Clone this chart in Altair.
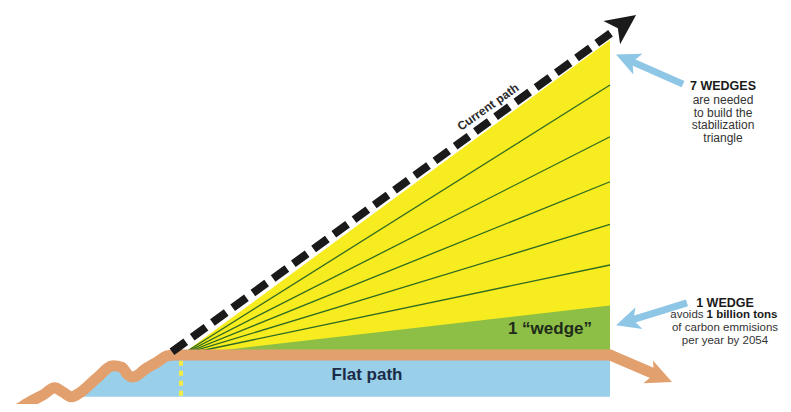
import altair as alt
import pandas as pd

# ---- data (years vs. carbon emissions, GtC / yr) ----
hist_year = [1985.2, 1986.4, 1987.9, 1989.3, 1990.2, 1991.3, 1992.2, 1994.2, 1996.1,
             1997.1, 1997.8, 1998.4, 2000.0, 2001.2, 2002.4, 2003.3]
hist_gtc = [5.82, 5.96, 6.11, 6.27, 6.18, 6.07, 6.16, 6.49, 6.76,
            6.73, 6.56, 6.51, 6.71, 6.84, 6.98, 7.0]
flat_year = [2054.0]
flat_gtc = [7.0]
decline_year = [2058.9]
decline_gtc = [6.6]

start_year = 2004.0
end_year = 2054.0
base_gtc = 7.0
current_end_gtc = 14.0
green_top_gtc = 8.1
wedge_line_tops = [9.0, 9.9, 10.85, 11.85, 13.0]

current_year = [2002.95, 2054.58]
current_gtc = [7.07, 14.22]

flat_floor = 6.07
dotted_gtc = [6.87, 6.07]

# arrowheads
head_year = [2055.62, 2059.83, 2055.98, 2056.04]
head_gtc = [14.36, 6.51, 13.57, 7.74]
head_angle = [324.2, 23, 203.7, 162.5]
head_size = [900, 676, 576, 576]
head_color = ["#1a1a1a", "#e2a06e", "#8ec6e6", "#8ec6e6"]

# blue callout arrow shafts
callout_year = [2062.51, 2062.97]
callout_gtc = [13.02, 8.16]
callout_year2 = [2056.56, 2056.56]
callout_gtc2 = [13.52, 7.78]

X_DOM = [1983.84, 2074.16]
Y_DOM = [5.911, 14.711]

FONT = "Liberation Sans"


def X(f="year"):
    return alt.X(f, type="quantitative", scale=alt.Scale(domain=X_DOM, nice=False, zero=False), axis=None)


def Y(f="gtc"):
    return alt.Y(f, type="quantitative", scale=alt.Scale(domain=Y_DOM, nice=False, zero=False), axis=None)


path = pd.DataFrame({"year": hist_year + flat_year + decline_year,
                     "gtc": hist_gtc + flat_gtc + decline_gtc})
path["order"] = range(len(path))

blue_df = path[(path["year"] >= 1992.2) & (path["year"] <= end_year)].copy()
blue_df["floor"] = flat_floor

blue = alt.Chart(blue_df).mark_area(color="#99cfe8", opacity=1, interpolate="monotone").encode(
    x=X(), y=Y(), y2=alt.Y2("floor"))

tri = pd.DataFrame({"year": [start_year, end_year], "gtc": [base_gtc, current_end_gtc],
                    "base": [base_gtc, base_gtc]})
yellow = alt.Chart(tri).mark_area(color="#f7ec1f", opacity=1).encode(
    x=X(), y=Y(), y2=alt.Y2("base"))

gdf = pd.DataFrame({"year": [start_year, end_year], "gtc": [base_gtc, green_top_gtc],
                    "base": [base_gtc, base_gtc]})
green = alt.Chart(gdf).mark_area(color="#8dbe46", opacity=1).encode(
    x=X(), y=Y(), y2=alt.Y2("base"))

wl = pd.DataFrame({"year": [start_year] * len(wedge_line_tops),
                   "gtc": [base_gtc] * len(wedge_line_tops),
                   "year2": [end_year] * len(wedge_line_tops),
                   "gtc2": wedge_line_tops})
wedge_lines = alt.Chart(wl).mark_rule(color="#2f6a22", strokeWidth=1.3).encode(
    x=X(), y=Y(), x2=alt.X2("year2"), y2=alt.Y2("gtc2"))

dot_df = pd.DataFrame({"year": [start_year], "gtc": [dotted_gtc[0]], "gtc2": [dotted_gtc[1]]})
dotted = alt.Chart(dot_df).mark_rule(color="#f4ec45", strokeWidth=4, strokeDash=[5, 5]).encode(
    x=X(), y=Y(), y2=alt.Y2("gtc2"))

hist_df = path[path["year"] <= end_year]
orange_hist = alt.Chart(hist_df).mark_line(color="#e2a06e", strokeWidth=11, strokeJoin="round",
                                           strokeCap="round", interpolate="monotone").encode(
    x=X(), y=Y(), order="order")

tail_df = path[path["year"] >= end_year]
orange_tail = alt.Chart(tail_df).mark_line(color="#e2a06e", strokeWidth=11, strokeJoin="round",
                                           strokeCap="round").encode(
    x=X(), y=Y(), order="order")

cur = pd.DataFrame({"year": current_year, "gtc": current_gtc})
current = alt.Chart(cur).mark_line(color="#1a1a1a", strokeWidth=8, strokeDash=[17, 8]).encode(
    x=X(), y=Y())

cal = pd.DataFrame({"year": callout_year, "gtc": callout_gtc,
                    "year2": callout_year2, "gtc2": callout_gtc2})
callouts = alt.Chart(cal).mark_rule(color="#8ec6e6", strokeWidth=7).encode(
    x=X(), y=Y(), x2=alt.X2("year2"), y2=alt.Y2("gtc2"))

heads_df = pd.DataFrame({"year": head_year, "gtc": head_gtc, "angle": head_angle,
                         "size": head_size, "color": head_color})
heads = alt.Chart(heads_df).mark_point(
    shape="M1,0L-1,-0.95L-0.5,0L-1,0.95Z", filled=True, opacity=1, strokeWidth=0).encode(
    x=X(), y=Y(),
    angle=alt.Angle("angle", scale=None),
    size=alt.Size("size", scale=None),
    color=alt.Color("color", scale=None))

big_df = pd.DataFrame({"year": [2025.68, 2047.0], "gtc": [6.56, 7.58],
                       "label": ["Flat path", "1 \u201cwedge\u201d"],
                       "color": ["#1b2b48", "#1e2b1a"]})
big_text = alt.Chart(big_df).mark_text(font=FONT, fontSize=17, fontWeight="bold",
                                       baseline="middle", align="center").encode(
    x=X(), y=Y(), text="label", color=alt.Color("color", scale=None))

cp_df = pd.DataFrame({"year": [2039.78], "gtc": [12.51], "label": ["Current path"]})
cp_text = alt.Chart(cp_df).mark_text(font=FONT, fontSize=12, fontWeight="bold", angle=324.8,
                                     baseline="middle", align="center", color="#2a2a2a").encode(
    x=X(), y=Y(), text="label")

head_df = pd.DataFrame({"year": [2067.17, 2067.40], "gtc": [12.97, 8.156],
                        "label": ["7 WEDGES", "1 WEDGE"]})
head_text = alt.Chart(head_df).mark_text(font=FONT, fontSize=12.5, fontWeight="bold",
                                         baseline="middle", align="center", color="#1a1a1a").encode(
    x=X(), y=Y(), text="label")

body_df = pd.DataFrame({"year": [2067.17] * 4,
                        "gtc": [12.656, 12.378, 12.10, 11.822],
                        "label": ["are needed", "to build the", "stabilization", "triangle"]})
body_text = alt.Chart(body_df).mark_text(font=FONT, fontSize=12, baseline="middle",
                                         align="center", color="#333333").encode(
    x=X(), y=Y(), text="label")

body2_df = pd.DataFrame({"year": [2067.40, 2067.40],
                         "gtc": [7.60, 7.322],
                         "label": ["of carbon emmisions", "per year by 2054"]})
body2_text = alt.Chart(body2_df).mark_text(font=FONT, fontSize=11.5, baseline="middle",
                                           align="center", color="#333333").encode(
    x=X(), y=Y(), text="label")

av_df = pd.DataFrame({"year": [2064.90], "gtc": [7.878], "label": ["avoids"]})
av_text = alt.Chart(av_df).mark_text(font=FONT, fontSize=11.5, baseline="middle",
                                     align="right", color="#333333").encode(
    x=X(), y=Y(), text="label")

bt_df = pd.DataFrame({"year": [2065.25], "gtc": [7.878], "label": ["1 billion tons"]})
bt_text = alt.Chart(bt_df).mark_text(font=FONT, fontSize=11.5, fontWeight="bold", baseline="middle",
                                     align="left", color="#1a1a1a").encode(
    x=X(), y=Y(), text="label")

chart = alt.layer(
    blue, yellow, green, wedge_lines, dotted, orange_hist, orange_tail, current, callouts, heads,
    big_text, cp_text, head_text, body_text, body2_text, av_text, bt_text
).properties(
    width=775, height=396,
    autosize=alt.AutoSizeParams(type="none"),
    padding=0,
    background="white",
).configure_view(strokeWidth=0)

chart.save("out.html", embed_options={"renderer": "svg", "actions": False})
